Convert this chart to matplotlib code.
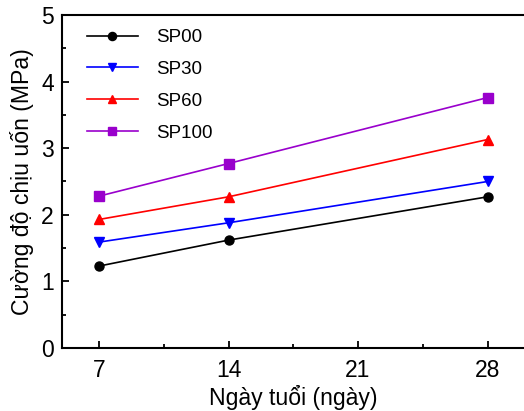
import numpy as np
import matplotlib.pyplot as plt
from matplotlib.ticker import MultipleLocator

plt.rcParams['font.family'] = ['Liberation Sans', 'DejaVu Sans']

# Dữ liệu
ngay = [7, 14, 28]
sp00 = [1.23, 1.62, 2.27]
sp30 = [1.59, 1.88, 2.50]
sp60 = [1.93, 2.27, 3.13]
sp100 = [2.28, 2.77, 3.76]
nhan = ['SP00', 'SP30', 'SP60', 'SP100']
mau = ['black', '#0000FF', '#FF0000', '#9900CC']
ky_hieu = ['o', 'v', '^', 's']

fig = plt.figure(figsize=(5.24, 4.11), dpi=100)
ax = fig.add_axes([62 / 524, 1 - 348 / 411, 1 - 62 / 524, (348 - 15) / 411])

for y, lb, c, m in zip([sp00, sp30, sp60, sp100], nhan, mau, ky_hieu):
    ax.plot(ngay, y, color=c, marker=m, markersize=6.5, linewidth=1.2, label=lb)

ax.set_xlim(5, 29.97)
ax.set_ylim(0, 5)
ax.set_xticks([7, 14, 21, 28])
ax.xaxis.set_minor_locator(MultipleLocator(3.5))
ax.yaxis.set_major_locator(MultipleLocator(1))
ax.yaxis.set_minor_locator(MultipleLocator(0.5))
ax.tick_params(which='both', direction='in', width=1.3, labelsize=16.5)
ax.tick_params(which='major', length=5, pad=8)
ax.tick_params(which='minor', length=3)
ax.tick_params(axis='y', which='major', pad=6)
ax.spines['right'].set_visible(False)
for s in ['left', 'bottom', 'top']:
    ax.spines[s].set_linewidth(1.5)

ax.set_xlabel('Ngày tuổi (ngày)', fontsize=16.6, labelpad=2)
ax.set_ylabel('Cường độ chịu uốn (MPa)', fontsize=16.6, labelpad=5)

ax.legend(loc='upper left', bbox_to_anchor=(0.054, 0.958), frameon=False,
          fontsize=13.5, handlelength=2.72, handletextpad=0.96, labelspacing=0.79,
          borderpad=0, borderaxespad=0, markerscale=0.9)

fig.savefig('out.png', dpi=100)
